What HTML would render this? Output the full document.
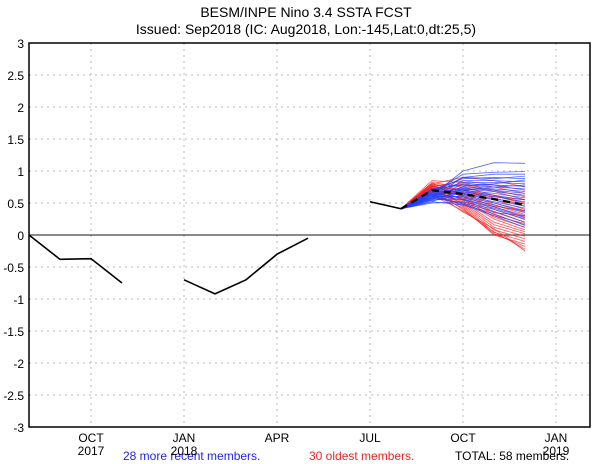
<!DOCTYPE html>
<html><head><meta charset="utf-8"><style>
body{margin:0;background:#fff;}
svg{display:block;font-family:"Liberation Sans",sans-serif;}
</style></head><body>
<svg id="c" width="600" height="464" viewBox="0 0 600 464">
<text x="306" y="17" font-size="14" text-anchor="middle">BESM/INPE Nino 3.4 SSTA FCST</text>
<text x="306" y="34" font-size="14" text-anchor="middle">Issued: Sep2018 (IC: Aug2018, Lon:-145,Lat:0,dt:25,5)</text>
<g id="grid"></g>
<g id="members"></g>
<g id="obs"></g>
<rect x="29" y="43" width="561" height="384" fill="none" stroke="#000" stroke-width="1.5"/>
<text x="123" y="460" font-size="12" fill="#2222ee">28 more recent members.</text>
<text x="309" y="460" font-size="12" fill="#ee2222">30 oldest members.</text>
<text x="455" y="460" font-size="12" fill="#000">TOTAL: 58 members.</text>
</svg>
<script>
const yTicks=[3,2.5,2,1.5,1,0.5,0,-0.5,-1,-1.5,-2,-2.5,-3];
const yTickLabels=["3","2.5","2","1.5","1","0.5","0","-0.5","-1","-1.5","-2","-2.5","-3"];
const monthTickIdx=[2,5,8,11,14,17];
const monthLabels=["OCT","JAN","APR","JUL","OCT","JAN"];
const yearLabels=["2017","2018","","","","2019"];
const obsValues=[0,-0.38,-0.37,-0.75,null,-0.7,-0.92,-0.7,-0.3,-0.05,null,0.52,0.41];
const forecastStart=12;
const ensMean=[0.41,0.7,0.64,0.56,0.47];
const blueMembers=[
[0.62,1.0,1.13,1.12],[0.66,0.95,0.98,0.99],[0.6,0.9,0.95,0.95],[0.7,0.88,0.9,0.88],[0.58,0.85,0.85,0.83],
[0.68,0.82,0.82,0.8],[0.55,0.8,0.78,0.76],[0.72,0.78,0.75,0.72],[0.6,0.75,0.72,0.68],[0.65,0.73,0.7,0.65],
[0.52,0.72,0.68,0.62],[0.7,0.7,0.65,0.58],[0.56,0.68,0.62,0.55],[0.62,0.67,0.6,0.52],[0.58,0.65,0.57,0.48],
[0.66,0.64,0.55,0.45],[0.54,0.62,0.52,0.42],[0.6,0.6,0.5,0.38],[0.64,0.58,0.47,0.35],[0.55,0.56,0.44,0.3],
[0.62,0.55,0.42,0.27],[0.5,0.52,0.4,0.25],[0.58,0.5,0.37,0.2],[0.6,0.48,0.33,0.15],[0.52,0.47,0.3,0.12],
[0.63,0.7,0.75,0.78],[0.57,0.76,0.8,0.86],[0.66,0.9,0.88,0.92]];
const redMembers=[
[0.8,0.9,0.85,0.75],[0.75,0.85,0.78,0.7],[0.85,0.82,0.75,0.65],[0.7,0.8,0.7,0.6],[0.78,0.78,0.68,0.55],
[0.82,0.75,0.62,0.5],[0.72,0.72,0.58,0.45],[0.76,0.7,0.55,0.4],[0.68,0.68,0.5,0.36],[0.8,0.66,0.47,0.32],
[0.74,0.64,0.44,0.28],[0.7,0.62,0.4,0.24],[0.78,0.6,0.36,0.2],[0.66,0.58,0.32,0.16],[0.72,0.56,0.28,0.12],
[0.76,0.54,0.25,0.08],[0.7,0.52,0.2,0.05],[0.68,0.5,0.16,0.02],[0.74,0.48,0.12,-0.02],[0.64,0.46,0.08,-0.06],
[0.72,0.44,0.04,-0.1],[0.66,0.42,0.0,-0.14],[0.7,0.4,0.02,-0.18],[0.62,0.38,0.05,-0.22],[0.68,0.36,0.1,-0.25],
[0.75,0.65,0.6,0.55],[0.8,0.7,0.62,0.48],[0.73,0.55,0.35,0.3],[0.6,0.5,0.3,0.18],[0.77,0.6,0.45,0.38]];
const NS="http://www.w3.org/2000/svg";
const X=i=>29+31*i, Y=v=>235-64*v;
function mk(tag,attrs,parent){const e=document.createElementNS(NS,tag);for(const k in attrs)e.setAttribute(k,attrs[k]);parent.appendChild(e);return e;}
const grid=document.getElementById('grid'),svg=document.getElementById('c');
yTicks.forEach((v,i)=>{
 if(v!==3&&v!==-3&&v!==0){const l=mk('line',{x1:29,x2:590,y1:Y(v),y2:Y(v),stroke:'#bbb','stroke-dasharray':'2,4'},grid);
 
 }
 const t=mk('text',{x:24,y:Y(v)+5,'font-size':12,'text-anchor':'end'},svg);t.textContent=yTickLabels[i];
 
 
});
monthTickIdx.forEach((m,i)=>{
 const l=mk('line',{x1:X(m),x2:X(m),y1:43,y2:427,stroke:'#bbb','stroke-dasharray':'2,4'},grid);
 
 
 const t=mk('text',{x:X(m),y:442,'font-size':12,'text-anchor':'middle'},svg);t.textContent=monthLabels[i];
 
 
 if(yearLabels[i]){const y=mk('text',{x:X(m),y:455,'font-size':12,'text-anchor':'middle'},svg);y.textContent=yearLabels[i];
 
 }
});
const z=mk('line',{x1:29,x2:590,y1:Y(0),y2:Y(0),stroke:'#444','stroke-width':1.3},grid);


const mem=document.getElementById('members');
function memberPath(vals,color){
 const pts=[obsValues[forecastStart]].concat(vals);
 const d=pts.map((v,k)=>(k?'L':'M')+X(forecastStart+k)+','+Y(v)).join('');
 return mk('path',{d:d,fill:'none',stroke:color,'stroke-width':0.8,'stroke-opacity':0.8},mem);
}
redMembers.forEach(v=>{const p=memberPath(v,'#ff2020');
 
 });
blueMembers.forEach(v=>{const p=memberPath(v,'#2040ff');
 
 });
const obs=document.getElementById('obs');
let d='',pen=false;
obsValues.forEach((v,i)=>{if(v===null){pen=false;return;}d+=(pen?'L':'M')+X(i)+','+Y(v);pen=true;});
const o=mk('path',{d:d,fill:'none',stroke:'#000','stroke-width':1.6},obs);


const md=ensMean.map((v,k)=>(k?'L':'M')+X(forecastStart+k)+','+Y(v)).join('');
const m=mk('path',{d:md,fill:'none',stroke:'#000','stroke-width':2.2,'stroke-dasharray':'7,5'},obs);


</script>
</body></html>
